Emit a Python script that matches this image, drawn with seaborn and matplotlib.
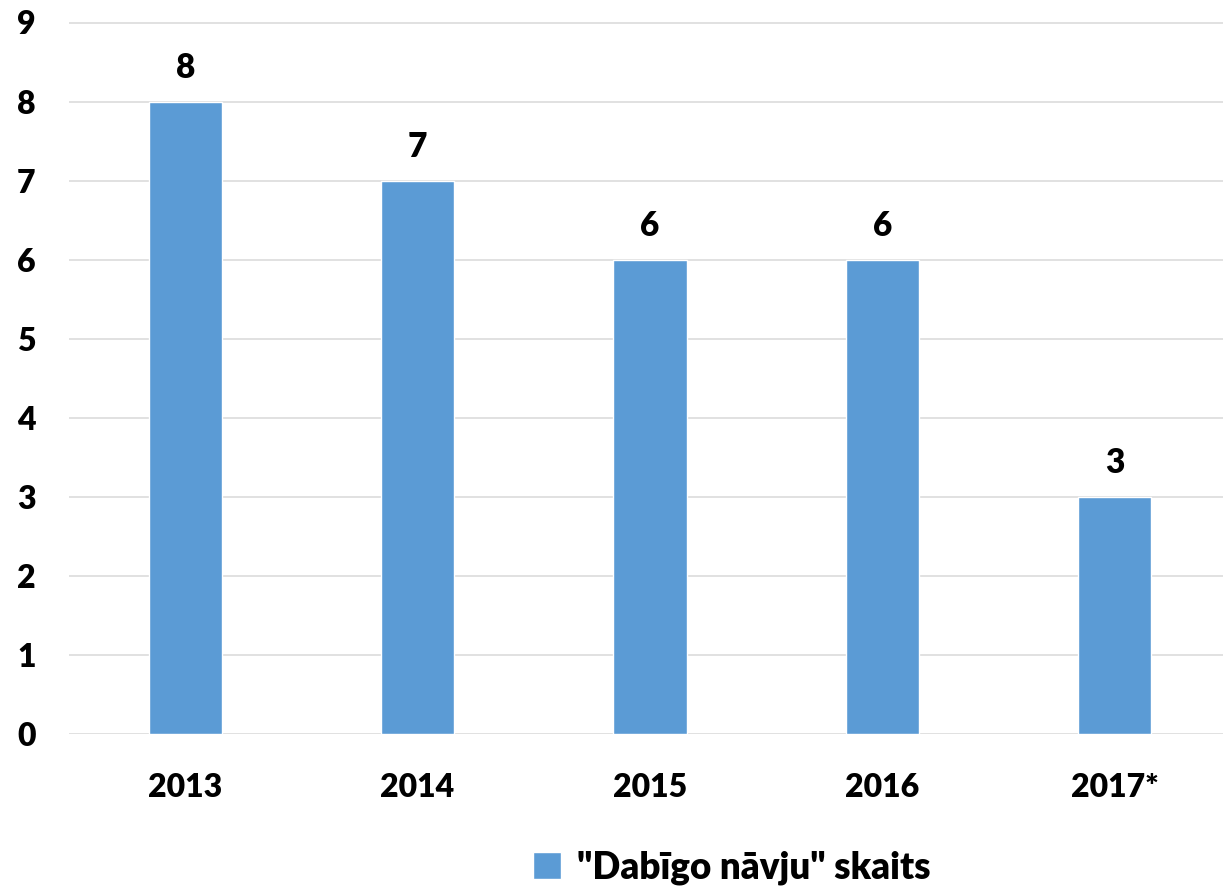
import seaborn as sns
import matplotlib.pyplot as plt
import pandas as pd

years = ["2013", "2014", "2015", "2016", "2017*"]
counts = [8, 7, 6, 6, 3]
series_name = '"Dabīgo nāvju" skaits'
y_ticks = [0, 1, 2, 3, 4, 5, 6, 7, 8, 9]

bar_color = "#5B9BD5"
grid_color = "#D9D9D9"

df = pd.DataFrame({"year": years, "count": counts})

sns.set_style("white")
plt.rcParams['font.family'] = ['Lato', 'DejaVu Sans']
plt.rcParams['font.weight'] = 'heavy'
plt.rcParams['text.color'] = 'black'
plt.rcParams['xtick.color'] = 'black'
plt.rcParams['ytick.color'] = 'black'

fig = plt.figure(figsize=(12.23, 8.92), dpi=100)
W, H = 1223, 892
ax = fig.add_axes([69 / W, (H - 734) / H, 1162 / W, (734 - 22.5) / H])

sns.barplot(ax=ax, data=df, x="year", y="count", color=bar_color,
            width=0.315, saturation=1, label=series_name, zorder=3)

ax.set_ylim(0, 9)
ax.set_xlim(-0.5, len(years) - 0.5)
ax.set_yticks(y_ticks)
ax.yaxis.grid(True, color=grid_color, linewidth=1.1, zorder=0)
ax.set_axisbelow(True)
for s in ax.spines.values():
    s.set_visible(False)
ax.tick_params(axis='y', length=0, pad=24, labelsize=23, labelcolor='black')
ax.tick_params(axis='x', length=0, pad=28, labelsize=23, labelcolor='black')
for lbl in ax.get_xticklabels() + ax.get_yticklabels():
    lbl.set_fontweight('heavy')
ax.set(xlabel=None, ylabel=None)

ax.bar_label(ax.containers[0], labels=[str(c) for c in counts],
             padding=13, fontsize=24, fontweight='heavy', color='black')

leg = ax.legend(loc='center left', bbox_to_anchor=(500 / W, (H - 868) / H),
                bbox_transform=fig.transFigure, frameon=False,
                handlelength=0.75, handleheight=0.75, handletextpad=0.45,
                prop={'size': 26.5, 'weight': 'heavy'})
for t in leg.get_texts():
    t.set_color('black')

fig.savefig("out.png", dpi=100)
